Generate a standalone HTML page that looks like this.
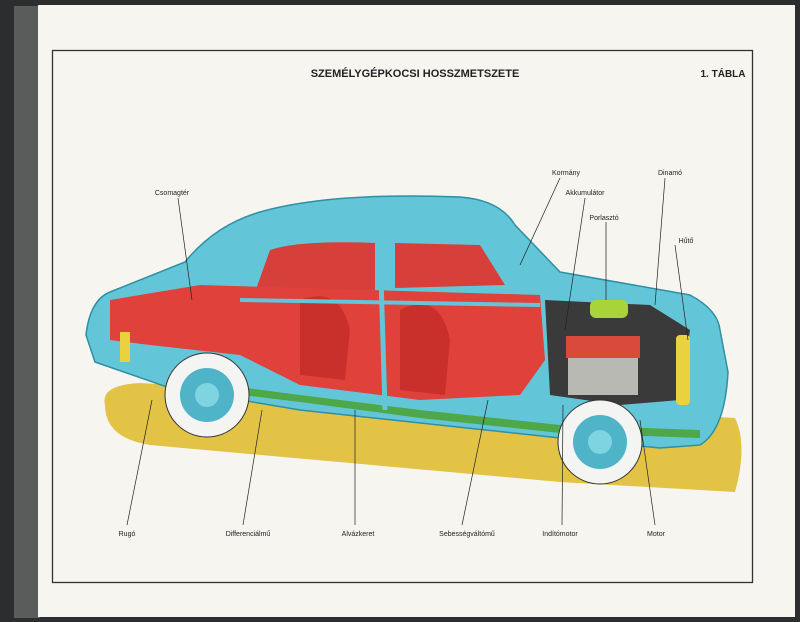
<!DOCTYPE html>
<html><head><meta charset="utf-8"><style>
html,body{margin:0;padding:0;width:800px;height:622px;overflow:hidden;background:#2b2d2f}
svg{display:block}
text{font-family:"Liberation Sans",sans-serif}
</style></head><body>
<svg width="800" height="622" viewBox="0 0 800 622">
<rect x="0" y="0" width="800" height="622" fill="#2b2d2f"/>
<rect x="14" y="6" width="26" height="612" fill="#5a5c5c"/>
<rect x="38" y="5" width="757" height="612" fill="#f7f5f0"/>
<rect x="52.5" y="50.5" width="700" height="532" fill="none" stroke="#333" stroke-width="1.3"/>
<text x="415" y="77" font-size="11" font-weight="bold" text-anchor="middle" fill="#222">SZEMÉLYGÉPKOCSI HOSSZMETSZETE</text>
<text x="723" y="77" font-size="10" font-weight="bold" text-anchor="middle" fill="#222">1. TÁBLA</text>
<!-- ground -->
<path d="M105,405 Q100,385 140,383 L735,418 Q748,445 735,492 L560,482 L150,445 Q105,438 105,405 Z" fill="#e3c345"/>
<!-- car body -->
<path d="M95,362 L86,335 Q90,300 110,292 L185,262 Q215,225 260,212 Q330,192 460,197 Q500,200 515,225 L560,272 L690,295 Q718,310 720,330 L728,372 Q725,430 700,445 L660,448 L560,438 L300,410 L170,388 Z" fill="#63c6d8" stroke="#2f8fa3" stroke-width="1.5"/>
<!-- windows -->
<path d="M270,250 Q300,240 375,243 L375,290 L255,292 Z" fill="#d7403a"/>
<path d="M395,243 L480,245 L505,285 L395,288 Z" fill="#d7403a"/>
<!-- interior red -->
<path d="M110,300 L200,285 L540,295 L545,360 L520,395 L420,400 L300,385 L240,355 L150,345 L110,340 Z" fill="#e0413a"/>
<path d="M300,300 Q340,285 350,330 L345,380 L300,375 Z" fill="#c9302c"/>
<path d="M400,310 Q440,290 450,340 L445,395 L400,390 Z" fill="#c9302c"/>
<!-- engine bay -->
<path d="M545,300 L650,305 L690,330 L680,400 L620,405 L550,395 Z" fill="#3a3a3a"/>
<rect x="568" y="340" width="70" height="55" fill="#b9b9b3"/>
<rect x="566" y="336" width="74" height="22" fill="#d94a3a"/>
<rect x="590" y="300" width="38" height="18" rx="6" fill="#a8d43a"/>
<rect x="676" y="335" width="14" height="70" rx="4" fill="#e9d23e"/>
<rect x="120" y="332" width="10" height="30" fill="#e9d23e"/>
<!-- chassis green -->
<path d="M170,378 L300,395 L420,410 L560,425 L700,430 L700,438 L560,433 L420,418 L300,402 L170,386 Z" fill="#4ea84a"/>
<!-- pillars -->
<line x1="380" y1="243" x2="385" y2="410" stroke="#63c6d8" stroke-width="5"/>
<line x1="240" y1="300" x2="540" y2="305" stroke="#63c6d8" stroke-width="4"/>
<!-- wheels -->
<circle cx="207" cy="395" r="42" fill="#f4f4f2" stroke="#333" stroke-width="1"/>
<circle cx="207" cy="395" r="27" fill="#4fb4c8"/>
<circle cx="207" cy="395" r="12" fill="#7fd4e2"/>
<circle cx="600" cy="442" r="42" fill="#f4f4f2" stroke="#333" stroke-width="1"/>
<circle cx="600" cy="442" r="27" fill="#4fb4c8"/>
<circle cx="600" cy="442" r="12" fill="#7fd4e2"/>
<!-- leader lines -->
<g stroke="#222" stroke-width="0.7" fill="none">
<line x1="178" y1="198" x2="192" y2="300"/>
<line x1="560" y1="178" x2="520" y2="265"/>
<line x1="585" y1="198" x2="565" y2="330"/>
<line x1="665" y1="178" x2="655" y2="305"/>
<line x1="606" y1="222" x2="606" y2="300"/>
<line x1="675" y1="245" x2="688" y2="340"/>
<line x1="127" y1="525" x2="152" y2="400"/>
<line x1="243" y1="525" x2="262" y2="410"/>
<line x1="355" y1="525" x2="355" y2="410"/>
<line x1="462" y1="525" x2="488" y2="400"/>
<line x1="562" y1="525" x2="563" y2="405"/>
<line x1="655" y1="525" x2="640" y2="420"/>
</g>
<g font-size="7" fill="#222" text-anchor="middle">
<text x="172" y="195">Csomagtér</text>
<text x="566" y="175">Kormány</text>
<text x="585" y="195">Akkumulátor</text>
<text x="670" y="175">Dinamó</text>
<text x="604" y="220">Porlasztó</text>
<text x="686" y="243">Hűtő</text>
<text x="127" y="536">Rugó</text>
<text x="248" y="536">Differenciálmű</text>
<text x="358" y="536">Alvázkeret</text>
<text x="467" y="536">Sebességváltómű</text>
<text x="560" y="536">Indítómotor</text>
<text x="656" y="536">Motor</text>
</g>
</svg>
</body></html>
